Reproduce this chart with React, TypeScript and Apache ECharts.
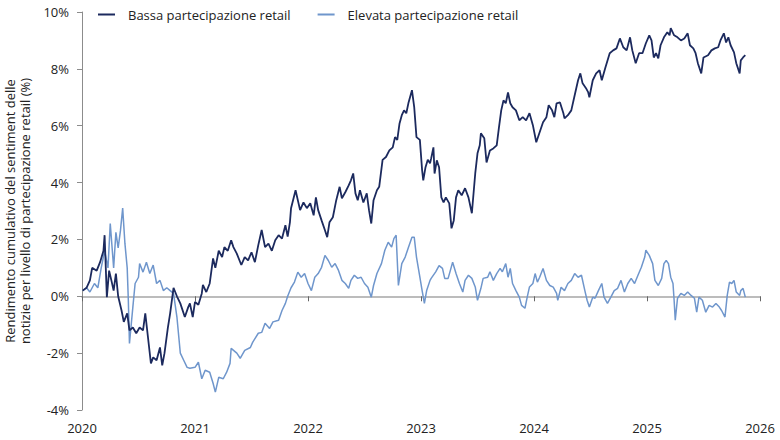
import React, { useEffect, useRef } from 'react'
import * as echarts from 'echarts'

// valori: [anno decimale, rendimento cumulativo %]
const bassa: [number, number][] = [
  [2020.006, 0.2], [2020.04, 0.3], [2020.07, 0.56], [2020.09, 1.0], [2020.13, 0.9], [2020.16, 1.2],
  [2020.19, 1.6], [2020.2, 2.15], [2020.22, -0.03], [2020.24, 0.9], [2020.26, 0.56], [2020.28, 0.2],
  [2020.3, 0.8], [2020.32, 0.0], [2020.35, -0.5], [2020.37, -0.9], [2020.4, -0.6], [2020.42, -1.2],
  [2020.45, -1.1], [2020.48, -1.3], [2020.51, -1.1], [2020.54, -1.2], [2020.56, -0.6], [2020.59, -1.66],
  [2020.61, -2.36], [2020.63, -2.15], [2020.66, -2.25], [2020.69, -1.8], [2020.71, -2.43], [2020.73, -2.0],
  [2020.76, -1.1], [2020.78, -0.6], [2020.81, 0.3], [2020.84, 0.0], [2020.87, -0.25], [2020.91, -0.73],
  [2020.94, -0.38], [2020.955, -0.25], [2020.98, -0.73], [2021.0, -0.2], [2021.03, -0.3], [2021.06, 0.1],
  [2021.07, 0.4], [2021.1, 0.15], [2021.13, 0.45], [2021.16, 1.33], [2021.18, 1.0], [2021.21, 1.6],
  [2021.24, 1.38], [2021.26, 1.73], [2021.29, 1.6], [2021.32, 1.97], [2021.34, 1.73], [2021.37, 1.5],
  [2021.41, 1.1], [2021.44, 1.38], [2021.47, 1.26], [2021.5, 1.55], [2021.53, 1.2], [2021.56, 1.8],
  [2021.59, 2.33], [2021.62, 1.73], [2021.65, 1.85], [2021.68, 1.6], [2021.71, 1.97], [2021.74, 2.15],
  [2021.77, 2.03], [2021.8, 2.5], [2021.82, 2.1], [2021.84, 2.6], [2021.85, 3.1], [2021.89, 3.73],
  [2021.93, 3.03], [2021.96, 3.3], [2021.99, 3.1], [2022.02, 3.27], [2022.05, 2.85], [2022.07, 3.48],
  [2022.09, 3.03], [2022.12, 2.67], [2022.15, 2.32], [2022.17, 2.08], [2022.19, 2.6], [2022.22, 2.78],
  [2022.25, 3.38], [2022.28, 3.85], [2022.3, 3.45], [2022.33, 3.66], [2022.36, 3.9], [2022.38, 4.08],
  [2022.4, 4.32], [2022.42, 3.62], [2022.44, 3.38], [2022.46, 3.73], [2022.49, 3.3], [2022.52, 3.62],
  [2022.54, 3.03], [2022.56, 2.56], [2022.58, 3.38], [2022.61, 3.73], [2022.63, 3.85], [2022.66, 4.8],
  [2022.69, 4.9], [2022.72, 5.13], [2022.75, 5.24], [2022.77, 5.6], [2022.79, 5.5], [2022.81, 6.08],
  [2022.83, 6.37], [2022.85, 6.54], [2022.87, 6.44], [2022.89, 6.82], [2022.92, 7.25], [2022.94, 6.65],
  [2022.96, 5.6], [2022.99, 5.5], [2023.01, 4.43], [2023.02, 4.08], [2023.04, 4.54], [2023.06, 4.8],
  [2023.08, 4.68], [2023.09, 4.85], [2023.11, 5.24], [2023.12, 4.32], [2023.14, 4.78], [2023.16, 4.54],
  [2023.18, 3.48], [2023.2, 3.3], [2023.22, 3.48], [2023.25, 3.27], [2023.27, 2.39], [2023.29, 2.67],
  [2023.31, 3.48], [2023.33, 3.73], [2023.36, 3.55], [2023.39, 3.8], [2023.42, 3.48], [2023.45, 2.92],
  [2023.48, 4.32], [2023.5, 5.03], [2023.52, 5.31], [2023.53, 5.73], [2023.56, 5.56], [2023.58, 4.71],
  [2023.61, 5.13], [2023.64, 5.2], [2023.67, 5.31], [2023.69, 5.94], [2023.71, 6.54], [2023.73, 6.89],
  [2023.75, 6.79], [2023.77, 7.17], [2023.79, 6.79], [2023.81, 6.65], [2023.84, 6.54], [2023.87, 6.19],
  [2023.9, 6.3], [2023.93, 6.19], [2023.96, 6.44], [2023.99, 6.02], [2024.02, 5.42], [2024.05, 5.77],
  [2024.08, 6.12], [2024.11, 6.3], [2024.13, 6.72], [2024.16, 6.54], [2024.18, 6.3], [2024.2, 6.79],
  [2024.23, 6.82], [2024.26, 6.44], [2024.27, 6.26], [2024.3, 6.37], [2024.33, 6.54], [2024.36, 7.07],
  [2024.39, 7.6], [2024.41, 7.84], [2024.43, 7.49], [2024.46, 7.32], [2024.48, 7.17], [2024.49, 7.0],
  [2024.52, 7.6], [2024.55, 7.84], [2024.58, 7.95], [2024.6, 7.6], [2024.63, 8.02], [2024.67, 8.55],
  [2024.7, 8.65], [2024.73, 8.72], [2024.76, 9.07], [2024.79, 8.76], [2024.82, 8.65], [2024.85, 9.11],
  [2024.87, 8.65], [2024.9, 8.2], [2024.93, 8.55], [2024.96, 8.55], [2024.99, 8.9], [2025.02, 9.18],
  [2025.04, 9.0], [2025.06, 8.4], [2025.08, 8.55], [2025.1, 8.37], [2025.12, 8.83], [2025.15, 9.11],
  [2025.18, 9.29], [2025.2, 9.18], [2025.21, 9.43], [2025.24, 9.18], [2025.27, 9.11], [2025.3, 9.0],
  [2025.33, 9.07], [2025.36, 9.25], [2025.38, 8.83], [2025.41, 8.72], [2025.43, 8.55], [2025.45, 8.2],
  [2025.48, 7.84], [2025.5, 8.4], [2025.54, 8.48], [2025.57, 8.65], [2025.6, 8.72], [2025.63, 8.76],
  [2025.65, 9.0], [2025.68, 9.25], [2025.7, 8.93], [2025.72, 9.11], [2025.74, 8.83], [2025.77, 8.58],
  [2025.79, 8.2], [2025.82, 7.84], [2025.83, 8.3], [2025.85, 8.4], [2025.87, 8.48],
]

const elevata: [number, number][] = [
  [2020.006, 0.2], [2020.04, 0.3], [2020.07, 0.15], [2020.11, 0.45], [2020.14, 0.3], [2020.17, 1.0],
  [2020.2, 1.6], [2020.23, 1.0], [2020.25, 2.56], [2020.28, 1.0], [2020.3, 2.25], [2020.32, 1.7],
  [2020.34, 2.3], [2020.36, 3.1], [2020.38, 1.85], [2020.4, 1.0], [2020.41, -0.14], [2020.42, -1.66],
  [2020.45, -0.38], [2020.47, 0.45], [2020.5, 0.67], [2020.51, 1.15], [2020.54, 0.85], [2020.57, 1.2],
  [2020.6, 0.8], [2020.63, 1.1], [2020.66, 0.45], [2020.69, 0.56], [2020.72, 0.2], [2020.75, 0.3],
  [2020.78, 0.2], [2020.81, 0.1], [2020.84, -0.73], [2020.87, -2.0], [2020.9, -2.25], [2020.93, -2.5],
  [2020.955, -2.53], [2021.0, -2.5], [2021.03, -2.32], [2021.06, -2.9], [2021.09, -2.6], [2021.13, -2.67],
  [2021.16, -3.06], [2021.18, -3.37], [2021.21, -2.85], [2021.25, -2.9], [2021.28, -2.67], [2021.31, -2.36],
  [2021.32, -1.83], [2021.37, -2.0], [2021.4, -2.18], [2021.44, -1.9], [2021.49, -1.8], [2021.51, -1.62],
  [2021.56, -1.3], [2021.59, -1.27], [2021.62, -0.95], [2021.66, -1.13], [2021.69, -0.9], [2021.74, -0.84],
  [2021.77, -0.5], [2021.8, -0.25], [2021.82, 0.0], [2021.85, 0.3], [2021.88, 0.5], [2021.91, 0.85],
  [2021.94, 0.67], [2021.97, 0.8], [2022.0, 0.45], [2022.03, 0.2], [2022.06, 0.67], [2022.09, 0.8],
  [2022.12, 1.02], [2022.15, 1.44], [2022.18, 1.26], [2022.21, 1.02], [2022.24, 1.15], [2022.27, 0.91],
  [2022.3, 0.56], [2022.33, 0.45], [2022.36, 0.28], [2022.38, 0.56], [2022.41, 0.74], [2022.44, 0.63],
  [2022.47, 0.67], [2022.5, 0.45], [2022.53, 0.32], [2022.56, -0.03], [2022.58, 0.38], [2022.61, 0.8],
  [2022.65, 1.15], [2022.68, 1.62], [2022.71, 1.9], [2022.74, 1.73], [2022.76, 2.03], [2022.78, 2.15],
  [2022.8, 0.38], [2022.83, 1.15], [2022.86, 1.38], [2022.89, 1.73], [2022.92, 2.08], [2022.94, 2.08],
  [2022.96, 1.38], [2022.99, 0.67], [2023.01, 0.2], [2023.03, -0.25], [2023.05, 0.2], [2023.08, 0.56],
  [2023.09, 0.63], [2023.13, 0.86], [2023.16, 1.08], [2023.19, 0.98], [2023.21, 0.63], [2023.24, 0.63],
  [2023.26, 0.91], [2023.28, 1.2], [2023.31, 0.8], [2023.34, 0.45], [2023.37, 0.15], [2023.39, 0.56],
  [2023.42, 0.74], [2023.45, 0.63], [2023.48, 0.33], [2023.5, -0.14], [2023.53, 0.28], [2023.55, 0.63],
  [2023.59, 0.67], [2023.61, 0.86], [2023.64, 0.56], [2023.67, 0.8], [2023.7, 0.98], [2023.72, 0.86],
  [2023.75, 1.15], [2023.77, 0.67], [2023.79, 0.98], [2023.81, 0.45], [2023.84, 0.2], [2023.87, -0.03],
  [2023.89, -0.32], [2023.92, -0.42], [2023.94, -0.03], [2023.96, 0.33], [2023.99, 0.45], [2024.01, 0.8],
  [2024.03, 0.5], [2024.05, 0.67], [2024.08, 0.98], [2024.11, 0.56], [2024.14, 0.38], [2024.17, 0.32],
  [2024.2, 0.1], [2024.21, -0.14], [2024.24, 0.32], [2024.27, 0.2], [2024.3, 0.45], [2024.33, 0.56],
  [2024.36, 0.8], [2024.39, 0.67], [2024.42, 0.74], [2024.45, 0.2], [2024.47, -0.14], [2024.49, -0.38],
  [2024.52, -0.03], [2024.54, -0.07], [2024.57, 0.2], [2024.6, 0.45], [2024.62, -0.03], [2024.65, -0.25],
  [2024.68, -0.03], [2024.71, 0.2], [2024.74, 0.28], [2024.77, 0.56], [2024.8, 0.15], [2024.83, 0.45],
  [2024.86, 0.63], [2024.89, 0.45], [2024.92, 0.74], [2024.95, 1.02], [2024.98, 1.38], [2024.99, 1.62],
  [2025.02, 1.44], [2025.05, 1.15], [2025.07, 0.56], [2025.1, 0.38], [2025.13, 0.63], [2025.15, 1.15],
  [2025.17, 1.26], [2025.19, 1.15], [2025.21, 0.67], [2025.23, 0.45], [2025.24, -0.14], [2025.25, -0.84],
  [2025.27, -0.07], [2025.3, 0.1], [2025.33, 0.03], [2025.36, 0.15], [2025.39, 0.03], [2025.42, -0.07],
  [2025.44, -0.56], [2025.46, -0.03], [2025.49, -0.14], [2025.52, -0.56], [2025.55, -0.32], [2025.58, -0.38],
  [2025.61, -0.25], [2025.64, -0.38], [2025.66, -0.5], [2025.69, -0.73], [2025.71, 0.03], [2025.73, 0.5],
  [2025.75, 0.45], [2025.77, 0.56], [2025.79, 0.15], [2025.82, 0.03], [2025.83, 0.2], [2025.85, 0.28],
  [2025.87, -0.03],
]

const seriesNames = ['Bassa partecipazione retail', 'Elevata partecipazione retail']
const yAxisTitle = 'Rendimento cumulativo del sentiment delle\nnotizie per livello di partecipazione retail (%)'

const FONT = '"Open Sans", "Noto Sans", sans-serif'
const DARK = '#1c2a5e'
const LIGHT = '#6f96cc'
// linea della legenda con spazio vuoto a destra prima del testo
const LEGEND_ICON = 'path://M0,0H17V2H0Z M25,0H25.01V2H25Z'

export default function App() {
  const chartRef = useRef<HTMLDivElement>(null)

  useEffect(() => {
    if (!chartRef.current) return
    const chart = echarts.init(chartRef.current, null, { renderer: 'svg' })

    chart.setOption({
      animation: false,
      textStyle: { fontFamily: FONT },
      grid: { left: 82, right: 20, top: 12, bottom: 30, outerBoundsMode: 'none', containLabel: false },
      legend: {
        top: 3,
        left: 93,
        itemWidth: 25,
        itemHeight: 2,
        itemGap: 27,
        icon: LEGEND_ICON,
        textStyle: { fontSize: 13, color: '#222', fontFamily: FONT },
        data: seriesNames,
      },
      xAxis: [
        {
          type: 'value',
          min: 2020,
          max: 2026,
          interval: 1,
          axisLine: { show: false, onZero: false },
          axisTick: { show: false },
          splitLine: { show: false },
          axisLabel: { fontSize: 13, color: '#222', margin: 11, formatter: (v: number) => String(v) },
        },
        {
          // linea dello zero con le tacche degli anni
          type: 'value',
          position: 'bottom',
          min: 2020,
          max: 2026,
          interval: 1,
          axisLine: { show: true, onZero: true, lineStyle: { color: '#a6a6a6', width: 1.5 } },
          axisTick: { show: true, length: 5, lineStyle: { color: '#666' } },
          axisLabel: { show: false },
          splitLine: { show: false },
        },
      ],
      yAxis: {
        type: 'value',
        min: -4,
        max: 10,
        interval: 2,
        name: yAxisTitle,
        nameLocation: 'middle',
        nameRotate: 90,
        nameGap: 45,
        nameTextStyle: { fontSize: 13, color: '#222', lineHeight: 15, fontFamily: FONT },
        axisLine: { show: true, lineStyle: { color: '#8c8c8c' } },
        axisTick: { show: true, length: 5, lineStyle: { color: '#8c8c8c' } },
        splitLine: { show: false },
        axisLabel: { fontSize: 13, color: '#222', margin: 13, formatter: (v: number) => `${v}%` },
      },
      series: [
        {
          name: seriesNames[0],
          type: 'line',
          xAxisIndex: 0,
          data: bassa,
          showSymbol: false,
          lineStyle: { color: DARK, width: 1.8 },
          itemStyle: { color: DARK },
          z: 3,
        },
        {
          name: seriesNames[1],
          type: 'line',
          xAxisIndex: 0,
          data: elevata,
          showSymbol: false,
          lineStyle: { color: LIGHT, width: 1.5 },
          itemStyle: { color: LIGHT },
          z: 2,
        },
      ],
    })

    return () => chart.dispose()
  }, [])

  return (
    <div style={{ position: 'absolute', left: 0, top: 0 }}>
      <div ref={chartRef} style={{ width: 780, height: 440 }} />
    </div>
  )
}
